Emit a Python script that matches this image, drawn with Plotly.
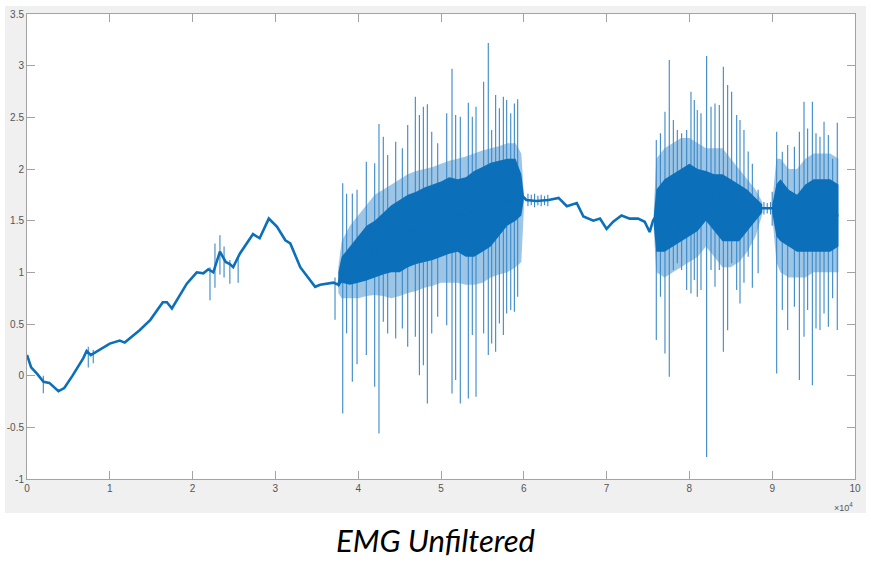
import plotly.graph_objects as go

# ---------------- data (x in units of 1e4 samples) ----------------
trend_x = [0.0, 0.05, 0.12, 0.2, 0.27, 0.32, 0.38, 0.45, 0.55, 0.68, 0.72, 0.77, 0.85, 1.0, 1.12, 1.18,
           1.36, 1.49, 1.64, 1.69, 1.75, 1.93, 2.05, 2.13, 2.19, 2.25, 2.33, 2.4, 2.45, 2.49, 2.57,
           2.73, 2.81, 2.92, 3.02, 3.12, 3.18, 3.3, 3.48, 3.54, 3.7, 3.76,
           3.8, 4.0, 4.5, 5.0, 5.5, 5.97, 6.03, 6.15, 6.3, 6.42, 6.52, 6.64, 6.72, 6.84, 6.92,
           7.0, 7.08, 7.18, 7.28, 7.38, 7.46, 7.52, 7.56,
           7.6, 7.8, 8.2, 8.6, 8.88, 8.95, 9.0, 9.2, 9.5, 9.8]
trend_y = [0.2, 0.08, 0.02, -0.06, -0.07, -0.11, -0.15, -0.12, 0.0, 0.17, 0.24, 0.2, 0.24, 0.31, 0.34, 0.32,
           0.44, 0.54, 0.71, 0.71, 0.65, 0.89, 1.0, 0.99, 1.03, 1.0, 1.2, 1.1, 1.08, 1.05, 1.18,
           1.37, 1.33, 1.52, 1.44, 1.31, 1.28, 1.05, 0.86, 0.88, 0.9, 0.88,
           1.0, 1.1, 1.35, 1.5, 1.6, 1.75, 1.70, 1.69, 1.7, 1.72, 1.64, 1.67, 1.54, 1.5, 1.52,
           1.42, 1.49, 1.55, 1.52, 1.52, 1.49, 1.39, 1.5,
           1.55, 1.65, 1.75, 1.6, 1.62, 1.62, 1.62, 1.5, 1.55, 1.55]

# small spikes on the slow baseline
base_spike_x = [0.197, 0.74, 0.8, 2.21, 2.27, 2.33, 2.38, 2.45, 2.55, 3.72,
                6.05, 6.09, 6.13, 6.17, 6.21, 6.25, 6.29, 8.9, 8.94, 8.98]
base_spike_top = [0.0, 0.28, 0.25, 1.05, 1.28, 1.36, 1.25, 1.12, 1.15, 0.95,
                  1.76, 1.75, 1.76, 1.74, 1.75, 1.74, 1.75, 1.68, 1.67, 1.68]
base_spike_bot = [-0.17, 0.08, 0.12, 0.73, 0.85, 0.98, 0.95, 0.89, 0.9, 0.54,
                  1.64, 1.65, 1.63, 1.65, 1.64, 1.65, 1.64, 1.56, 1.57, 1.56]

# burst spikes (x, peak, trough)
spike_x = [3.813, 3.86, 3.929, 3.986, 4.098, 4.199, 4.251, 4.303, 4.356, 4.453, 4.533, 4.598,
           4.690, 4.739, 4.787, 4.835, 4.888, 4.960, 5.069, 5.133, 5.177, 5.233, 5.330, 5.378,
           5.423, 5.515, 5.571, 5.612, 5.660, 5.705, 5.753, 5.793, 5.842, 5.886, 5.926,
           7.60, 7.65, 7.705, 7.757, 7.806, 7.854, 7.906, 7.967, 8.019, 8.059, 8.095, 8.140,
           8.208, 8.261, 8.309, 8.361, 8.41, 8.462, 8.51, 8.571, 8.611, 8.659, 8.71, 8.76, 8.83,
           9.0, 9.054, 9.122, 9.187, 9.268, 9.328, 9.384, 9.428, 9.485, 9.529, 9.577, 9.626,
           9.678, 9.73, 9.786]
spike_top = [1.861, 1.76, 1.764, 1.8, 2.07, 2.055, 2.435, 2.312, 2.135, 2.264, 2.2, 2.425,
             2.70, 2.522, 2.603, 2.626, 2.361, 2.248, 2.539, 2.97, 2.522, 2.506, 2.641, 2.506,
             2.603, 2.845, 3.22, 2.377, 2.716, 2.587, 2.70, 2.667, 2.539, 2.635, 2.674,
             2.28, 2.345, 2.554, 3.055, 2.474, 2.377, 2.345, 2.377, 2.748, 2.667, 2.571, 2.539,
             3.093, 2.603, 2.635, 2.619, 2.99, 2.813, 2.748, 2.522, 2.474, 2.377, 2.17, 2.05, 1.8,
             1.78, 2.361, 2.167, 2.232, 2.216, 2.361, 2.651, 2.393, 2.651, 2.345, 2.312, 2.457,
             2.329, 2.1, 2.448]
spike_bot = [-0.365, 0.41, -0.06, 0.11, 0.2, -0.108, -0.559, 0.521, 0.409, 0.36, 0.457, 0.28,
             0.376, 0.005, 0.102, -0.269, 0.409, 0.57, 0.489, -0.172, -0.043, -0.269, -0.22, 0.393,
             -0.205, 0.409, 0.199, 0.312, 0.231, 0.505, 0.393, 0.602, 0.635, 0.618, 0.763,
             0.344, 0.763, 0.215, -0.011, 1.022, 1.087, 1.022, 0.828, 0.796, 0.925, 0.763, 0.828,
             -0.786, 1.022, 0.86, 1.022, 0.231, 0.44, 1.087, 0.828, 0.699, 0.9, 1.15, 0.85, 0.99,
             1.45, 0.022, 0.635, 0.441, 0.667, -0.043, 0.376, 0.635, -0.092, 0.457, 0.441, 0.602,
             0.473, 0.75, 0.441]

# dense core envelopes of the bursts
b1_x = [3.76, 3.8, 3.9, 4.0, 4.1, 4.2, 4.3, 4.4, 4.5, 4.6, 4.7, 4.8, 4.9, 5.0, 5.1, 5.2, 5.3,
        5.4, 5.5, 5.6, 5.7, 5.8, 5.9, 5.97, 6.0]
b1_in_hi = [1.0, 1.15, 1.25, 1.35, 1.45, 1.5, 1.58, 1.65, 1.7, 1.75, 1.78, 1.82, 1.85, 1.88, 1.92,
            1.9, 1.92, 1.98, 2.02, 2.06, 2.08, 2.1, 2.1, 1.95, 1.75]
b1_in_lo = [0.85, 0.9, 0.88, 0.9, 0.92, 0.95, 0.98, 1.0, 1.0, 1.05, 1.08, 1.1, 1.12, 1.15, 1.18,
            1.2, 1.15, 1.15, 1.2, 1.25, 1.35, 1.45, 1.5, 1.55, 1.7]
b1_out_hi = [1.05, 1.3, 1.45, 1.55, 1.65, 1.75, 1.8, 1.85, 1.9, 1.95, 1.98, 2.0, 2.02, 2.05, 2.08,
             2.1, 2.12, 2.15, 2.18, 2.2, 2.22, 2.25, 2.25, 2.15, 1.76]
b1_out_lo = [0.8, 0.75, 0.75, 0.75, 0.77, 0.78, 0.77, 0.75, 0.77, 0.8, 0.82, 0.85, 0.87, 0.9, 0.9,
             0.9, 0.88, 0.88, 0.9, 0.95, 0.98, 1.0, 1.05, 1.1, 1.6]

b2_x = [7.57, 7.6, 7.7, 7.8, 7.9, 8.0, 8.1, 8.2, 8.3, 8.4, 8.5, 8.6, 8.7, 8.8, 8.88]
b2_in_hi = [1.55, 1.8, 1.9, 1.95, 2.0, 2.05, 2.0, 1.98, 1.95, 1.95, 1.9, 1.85, 1.8, 1.72, 1.66]
b2_in_lo = [1.45, 1.2, 1.2, 1.25, 1.3, 1.35, 1.4, 1.5, 1.4, 1.3, 1.3, 1.3, 1.4, 1.5, 1.58]
b2_out_hi = [1.6, 2.1, 2.2, 2.25, 2.3, 2.3, 2.25, 2.2, 2.2, 2.2, 2.1, 2.0, 1.9, 1.8, 1.68]
b2_out_lo = [1.4, 1.0, 0.95, 1.0, 1.05, 1.1, 1.15, 1.25, 1.15, 1.05, 1.05, 1.1, 1.2, 1.35, 1.56]

b3_x = [9.0, 9.05, 9.1, 9.2, 9.3, 9.4, 9.5, 9.6, 9.7, 9.8]
b3_in_hi = [1.65, 1.85, 1.9, 1.8, 1.75, 1.85, 1.9, 1.9, 1.9, 1.85]
b3_in_lo = [1.58, 1.35, 1.3, 1.25, 1.2, 1.2, 1.2, 1.2, 1.2, 1.25]
b3_out_hi = [1.67, 2.1, 2.1, 2.0, 2.0, 2.1, 2.15, 2.15, 2.15, 2.1]
b3_out_lo = [1.56, 1.1, 1.0, 0.95, 0.95, 0.95, 1.0, 1.0, 1.0, 1.0]

x_ticks = [0, 1, 2, 3, 4, 5, 6, 7, 8, 9, 10]
y_ticks = [-1, -0.5, 0, 0.5, 1, 1.5, 2, 2.5, 3, 3.5]
y_tick_text = ["-1", "-0.5", "0", "0.5", "1", "1.5", "2", "2.5", "3", "3.5"]
title_text = "EMG Unfiltered"

# ---------------- figure ----------------
BLUE = "#0b6fba"
LIGHT = "rgba(60,140,205,0.5)"
SPIKE = "#3a88c8"

fig = go.Figure()


def segs(xs, tops, bots):
    X, Y = [], []
    for x, t, b in zip(xs, tops, bots):
        X += [x, x, None]
        Y += [t, b, None]
    return X, Y


def band(xs, hi, lo, color):
    fig.add_trace(go.Scatter(x=list(xs) + list(xs[::-1]), y=list(hi) + list(lo[::-1]),
                             mode="lines", fill="toself", fillcolor=color,
                             line=dict(color="rgba(0,0,0,0)", width=0), hoverinfo="skip",
                             showlegend=False))


band(b1_x, b1_out_hi, b1_out_lo, LIGHT)
band(b2_x, b2_out_hi, b2_out_lo, LIGHT)
band(b3_x, b3_out_hi, b3_out_lo, LIGHT)

sx, sy = segs(spike_x, spike_top, spike_bot)
fig.add_trace(go.Scatter(x=sx, y=sy, mode="lines", line=dict(color=SPIKE, width=1.1),
                         hoverinfo="skip", showlegend=False))
bx, by = segs(base_spike_x, base_spike_top, base_spike_bot)
fig.add_trace(go.Scatter(x=bx, y=by, mode="lines", line=dict(color=SPIKE, width=1.1),
                         hoverinfo="skip", showlegend=False))

band(b1_x, b1_in_hi, b1_in_lo, BLUE)
band(b2_x, b2_in_hi, b2_in_lo, BLUE)
band(b3_x, b3_in_hi, b3_in_lo, BLUE)

fig.add_trace(go.Scatter(x=trend_x, y=trend_y, mode="lines", line=dict(color=BLUE, width=2.6),
                         hoverinfo="skip", showlegend=False))

axis_common = dict(showgrid=False, zeroline=False, showline=True, linecolor="#a3a3a3",
                   linewidth=1, mirror="ticks", ticks="inside", ticklen=8, tickcolor="#a3a3a3",
                   automargin=False,
                   tickfont=dict(family="Liberation Sans, Arial", size=10, color="#555555"))

fig.update_xaxes(range=[0, 10], tickvals=x_ticks, ticktext=[str(v) for v in x_ticks], **axis_common)
fig.update_yaxes(range=[-1, 3.5], tickvals=y_ticks, ticktext=y_tick_text, **axis_common)

fig.update_layout(
    width=871, height=562,
    margin=dict(l=27, r=16, t=14, b=83, autoexpand=False),
    paper_bgcolor="white", plot_bgcolor="rgba(0,0,0,0)",
    shapes=[
        dict(type="rect", xref="paper", yref="paper", x0=-0.0266, x1=1.0133, y0=-0.0731, y1=1.0172,
             fillcolor="#f0f0f0", line=dict(width=0), layer="below"),
        dict(type="rect", xref="paper", yref="paper", x0=0, x1=1, y0=0, y1=1,
             fillcolor="white", line=dict(width=0), layer="below"),
    ],
    annotations=[
        dict(text="×10<sup>4</sup>", xref="paper", yref="paper", x=1.0, y=-0.06, xanchor="right",
             yanchor="middle", showarrow=False,
             font=dict(family="Liberation Sans, Arial", size=9, color="#555555")),
        dict(text="<i>" + title_text + "</i>", xref="paper", yref="paper", x=0.4928, y=-0.131,
             xanchor="center", yanchor="middle", showarrow=False,
             font=dict(family="Lato, Open Sans", size=31, color="black")),
    ],
)

fig.write_html("out.html", config={"displayModeBar": False},
               post_script="document.body.style.margin='0px';document.body.style.overflow='hidden';")
